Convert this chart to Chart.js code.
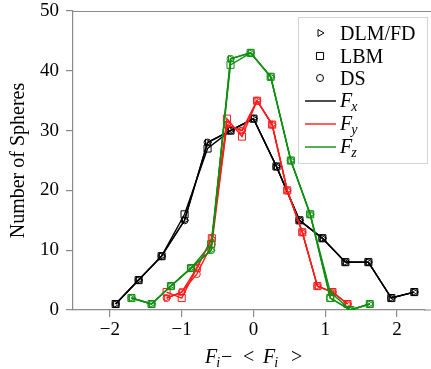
<!DOCTYPE html>
<html>
<head>
<meta charset="utf-8">
<script src="https://cdn.jsdelivr.net/npm/chart.js@4.4.1/dist/chart.umd.min.js"></script>
<style>
  html, body { margin: 0; padding: 0; background: #fff; }
  #wrap { width: 431px; height: 369px; }
</style>
</head>
<body>
<div id="wrap"><canvas id="chart" width="431" height="369"></canvas></div>
<script>
// bin centres and counts for each force component and method
const fxBins = [-1.92, -1.60, -1.28, -0.96, -0.64, -0.32, 0.00, 0.32, 0.64, 0.96, 1.28, 1.60, 1.92, 2.24];
const fxDLM = [1, 5, 9, 15, 28, 30, 32, 24, 15, 12, 8, 8, 2, 3];
const fxLBM = [1, 5, 9, 16, 27, 30, 32, 24, 15, 12, 8, 8, 2, 3];
const fxDS  = [1, 5, 9, 15, 28, 30, 32, 24, 15, 12, 8, 8, 2, 3];

const fyBins = [-1.21, -1.00, -0.79, -0.58, -0.37, -0.16, 0.05, 0.26, 0.47, 0.68, 0.89, 1.10, 1.31];
const fyDLM = [2, 3, 7, 12, 31, 30, 35, 31, 20, 13, 4, 3, 1];
const fyLBM = [3, 2, 7, 12, 32, 29, 35, 31, 20, 13, 4, 3, 1];
const fyDS  = [2, 3, 6, 11, 31, 30, 35, 31, 20, 13, 4, 3, 1];

const fzBins = [-1.70, -1.42, -1.15, -0.87, -0.59, -0.32, -0.04, 0.24, 0.52, 0.79, 1.07, 1.35, 1.62];
const fzDLM = [2, 1, 4, 7, 10, 42, 43, 39, 25, 16, 3, 0, 1];
const fzLBM = [2, 1, 4, 7, 11, 41, 43, 39, 25, 16, 2, 0, 1];
const fzDS  = [2, 1, 4, 7, 10, 42, 43, 39, 25, 16, 2, 0, 1];

const xTicks = [-2, -1, 0, 1, 2];
const yTicks = [0, 10, 20, 30, 40, 50];

const methods = ['DLM/FD', 'LBM', 'DS'];
const components = ['x', 'y', 'z'];

const BLACK = '#000000';
const RED = '#ff1a1a';
const GREEN = '#0f8f0f';
const GREY = '#8a8a8a';
const FONT = '"Liberation Serif", "DejaVu Serif", serif';

const markers = {
    'DLM/FD': { pointStyle: 'triangle', pointRotation: 90, pointRadius: 4 },
    'LBM': { pointStyle: 'rect', pointRotation: 0, pointRadius: 5 },
    'DS': { pointStyle: 'circle', pointRotation: 0, pointRadius: 3.5 }
};

function makeSet(bins, values, color, method) {
    const m = markers[method];
    return {
        label: method,
        data: bins.map((x, i) => ({ x: x, y: values[i] })),
        showLine: true,
        borderColor: color,
        borderWidth: 1.4,
        backgroundColor: 'rgba(0,0,0,0)',
        pointBorderColor: color,
        pointBorderWidth: 1,
        pointStyle: m.pointStyle,
        rotation: m.pointRotation,
        pointRadius: m.pointRadius,
        tension: 0
    };
}

// first dataset is drawn on top, so green goes first
const datasets = [
    makeSet(fzBins, fzDLM, GREEN, 'DLM/FD'),
    makeSet(fzBins, fzLBM, GREEN, 'LBM'),
    makeSet(fzBins, fzDS, GREEN, 'DS'),
    makeSet(fyBins, fyDLM, RED, 'DLM/FD'),
    makeSet(fyBins, fyLBM, RED, 'LBM'),
    makeSet(fyBins, fyDS, RED, 'DS'),
    makeSet(fxBins, fxDLM, BLACK, 'DLM/FD'),
    makeSet(fxBins, fxLBM, BLACK, 'LBM'),
    makeSet(fxBins, fxDS, BLACK, 'DS')
];

// italic letter with a small italic subscript
function drawSub(ctx, base, sub, x, y, size) {
    ctx.font = 'italic ' + size + 'px ' + FONT;
    ctx.fillText(base, x, y);
    const w = ctx.measureText(base).width;
    ctx.font = 'italic ' + Math.round(size * 0.7) + 'px ' + FONT;
    ctx.fillText(sub, x + w - 1, y + size * 0.22);
    return x + w - 1 + ctx.measureText(sub).width;
}

const extras = {
    id: 'extras',
    afterDraw(chart) {
        const ctx = chart.ctx;
        const area = chart.chartArea;
        ctx.save();

        // frame: top line and the bottom axis run on to the canvas edge
        ctx.strokeStyle = GREY;
        ctx.lineWidth = 1.2;
        ctx.beginPath();
        ctx.moveTo(area.left, area.top + 0.5);
        ctx.lineTo(chart.width, area.top + 0.5);
        ctx.moveTo(area.right - 1, area.bottom);
        ctx.lineTo(chart.width, area.bottom);
        ctx.stroke();

        // legend box
        const bx = 298, by = 17, bw = 129, bh = 146;
        ctx.fillStyle = '#ffffff';
        ctx.fillRect(bx, by, bw, bh);
        ctx.strokeStyle = '#d4d4d4';
        ctx.lineWidth = 1;
        ctx.strokeRect(bx + 0.5, by + 0.5, bw, bh);

        const rowY = [33, 56, 78, 101, 124, 147];
        const textX = 340;
        ctx.textBaseline = 'alphabetic';
        ctx.textAlign = 'left';

        methods.forEach((name, i) => {
            const m = markers[name];
            ctx.fillStyle = 'rgba(0,0,0,0)';
            ctx.strokeStyle = '#000';
            ctx.lineWidth = 1;
            Chart.helpers.drawPoint(ctx, {
                pointStyle: m.pointStyle,
                rotation: m.pointRotation,
                radius: m.pointRadius,
                borderWidth: 1
            }, 320, rowY[i]);
            ctx.fillStyle = '#000';
            ctx.font = '20px ' + FONT;
            ctx.fillText(name, textX, rowY[i] + 7);
        });

        const lineColors = [BLACK, RED, GREEN];
        components.forEach((c, i) => {
            const y = rowY[3 + i];
            ctx.strokeStyle = lineColors[i];
            ctx.lineWidth = 1.4;
            ctx.beginPath();
            ctx.moveTo(305, y);
            ctx.lineTo(336, y);
            ctx.stroke();
            ctx.fillStyle = '#000';
            drawSub(ctx, 'F', c, textX, y + 6, 20);
        });

        // x axis title: F_i - < F_i >
        ctx.fillStyle = '#000';
        const ty = 363;
        drawSub(ctx, 'F', 'i', 205, ty, 20);
        ctx.font = '20px ' + FONT;
        ctx.fillText('\u2212', 221, ty);
        ctx.fillText('<', 243, ty);
        drawSub(ctx, 'F', 'i', 263, ty, 20);
        ctx.font = '20px ' + FONT;
        ctx.fillText('>', 291, ty);

        ctx.restore();
    }
};

new Chart(document.getElementById('chart'), {
    type: 'scatter',
    data: { datasets: datasets },
    options: {
        responsive: false,
        animation: false,
        layout: { padding: { top: 11, right: 0, left: 0, bottom: 0 } },
        plugins: {
            legend: { display: false },
            tooltip: { enabled: false }
        },
        scales: {
            x: {
                type: 'linear',
                min: -2.514,
                max: 2.389,
                afterBuildTicks: (s) => { s.ticks = xTicks.map(v => ({ value: v })); },
                afterFit: (s) => {
                    s.height = 59;
                    s.paddingLeft = 0;
                    s.paddingRight = 0;
                },
                ticks: {
                    color: '#000',
                    font: { family: FONT, size: 19 },
                    padding: 2,
                    callback: (v) => v < 0 ? '\u2212' + Math.abs(v) : String(v)
                },
                grid: { drawOnChartArea: false, color: GREY, tickLength: 7, lineWidth: 1.2 },
                border: { color: GREY, width: 1.2 }
            },
            y: {
                type: 'linear',
                min: 0,
                max: 50,
                afterBuildTicks: (s) => { s.ticks = yTicks.map(v => ({ value: v })); },
                afterFit: (s) => {
                    s.width = 73;
                    s.paddingTop = 0;
                    s.paddingBottom = 0;
                },
                ticks: {
                    color: '#000',
                    font: { family: FONT, size: 19 },
                    padding: 7
                },
                title: {
                    display: true,
                    text: 'Number of Spheres',
                    color: '#000',
                    font: { family: FONT, size: 20 },
                    padding: { top: 7, bottom: 4 }
                },
                grid: { drawOnChartArea: false, color: GREY, tickLength: 7, lineWidth: 1.2 },
                border: { color: GREY, width: 1.2 }
            }
        }
    },
    plugins: [extras]
});
</script>
</body>
</html>
